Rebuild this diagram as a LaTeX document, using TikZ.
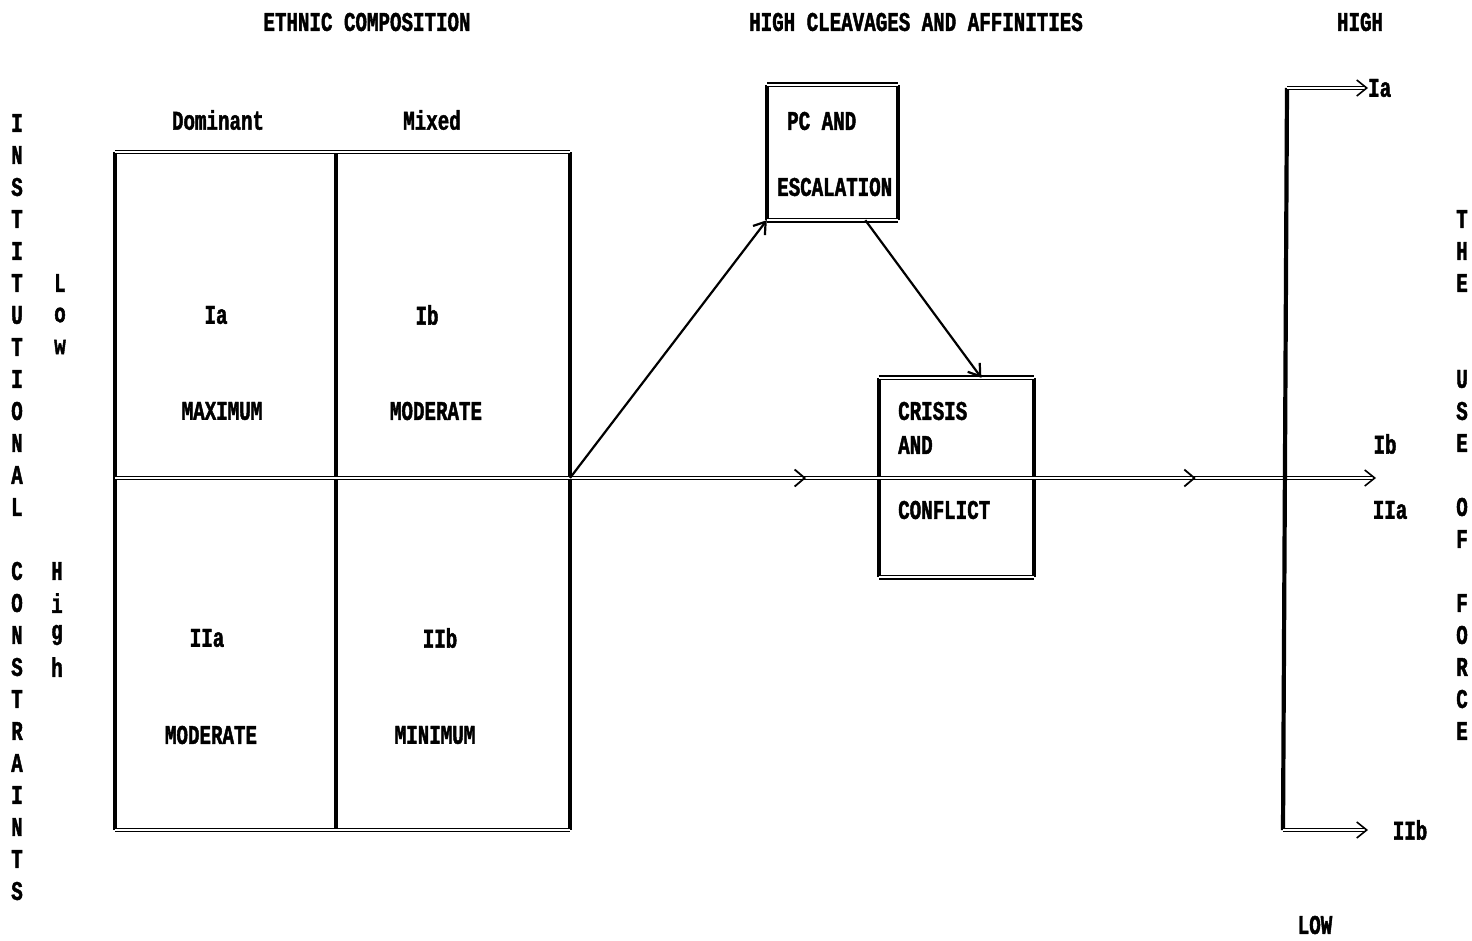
\documentclass[tikz,border=0pt]{standalone}
\usepackage{fontspec}
\newfontfamily\dotfont[FakeStretch=0.71,FakeBold=1.6]{Liberation Mono}
\usetikzlibrary{arrows.meta,calc,decorations.markings}

\begin{document}
\begin{tikzpicture}[x=1pt,y=-1pt,
  txt/.style={font=\dotfont\bfseries\fontsize{27}{32}\selectfont, inner sep=0pt},
  side/.style={line width=4.2pt},
  dbl/.style={double, double distance=1.6pt, line width=1.6pt},
  tip/.style={-{Straight Barb[length=10pt,width=16pt]}},
  link/.style={line width=2.2pt, -{Straight Barb[length=11pt,width=15pt]}},
  boxed/.style={inner sep=0pt, minimum width=#1}]
\useasboundingbox (0,0) rectangle (1472,940);

% headings
\node[txt] (tethnic) at (367,22) {ETHNIC COMPOSITION};
\node[txt] (tcleav) at (916,22) {HIGH CLEAVAGES AND AFFINITIES};
\node[txt] (thigh) at (1360,22) {HIGH};

% left axis
\foreach \ch [count=\k from 0] in {I,N,S,T,I,T,U,T,I,O,N,A,L}
  \node[txt] (ins\k) at (17,{123+32*\k}) {\ch};
\foreach \ch [count=\k from 0] in {C,O,N,S,T,R,A,I,N,T,S}
  \node[txt] (con\k) at (17,{571+32*\k}) {\ch};
\foreach \ch [count=\k from 0] in {L,o,w}
  \node[txt] (low\k) at (60,{283+32*\k}) {\ch};
\foreach \ch [count=\k from 0] in {H,i,g,h}
  \node[txt] (high\k) at (57,{571+32*\k}) {\ch};

% right axis
\foreach \ch/\r [count=\k] in {T/3,H/4,E/5,U/8,S/9,E/10,O/12,F/13,F/15,O/16,R/17,C/18,E/19}
  \node[txt] (force\k) at (1462,{123+32*\r}) {\ch};

% grid
\coordinate (gtl) at (115,152); \coordinate (gtm) at (336,152); \coordinate (gtr) at (570,152);
\coordinate (gml) at (115,478); \coordinate (gmr) at (570,478);
\coordinate (gbl) at (115,830); \coordinate (gbm) at (336,830); \coordinate (gbr) at (570,830);
\draw[side] (gtl) -- (gbl);
\draw[side] (gtm) -- (gbm);
\draw[side] (gtr) -- (gbr);
\draw[dbl] (gtl) -- (gtr);
\draw[dbl] (gbl) -- (gbr);

\node[txt] (dom) at (218,120) {Dominant};
\node[txt] (mix) at (432,120) {Mixed};
\node[txt] (ia) at (216,315) {Ia};
\node[txt] (ia2) at (222,411) {MAXIMUM};
\node[txt] (ib) at (427,315) {Ib};
\node[txt] (ib2) at (436,411) {MODERATE};
\node[txt] (iia) at (207,638) {IIa};
\node[txt] (iia2) at (211,735) {MODERATE};
\node[txt] (iib) at (440,638) {IIb};
\node[txt] (iib2) at (435,735) {MINIMUM};

% boxes
\node[boxed=131pt, minimum height=135pt] (pc) at (832.5,152.5) {};
\node[boxed=155pt, minimum height=199pt] (crisis) at (956.5,477.5) {};
\foreach \b in {pc,crisis} {
  \draw[side] (\b.north west) -- (\b.south west);
  \draw[side] (\b.north east) -- (\b.south east);
  \draw[dbl] (\b.north west) -- (\b.north east);
  \draw[dbl] (\b.south west) -- (\b.south east);
}
\node[txt, anchor=west] (pc1) at (787,121) {PC AND};
\node[txt, anchor=west] (pc2) at (777,187) {ESCALATION};
\node[txt, anchor=west] (cr1) at (898,411) {CRISIS};
\node[txt, anchor=west] (cr2) at (898,445) {AND};
\node[txt, anchor=west] (cr3) at (898,510) {CONFLICT};

% main line
\coordinate (gend) at (1376,478);
\draw[dbl, tip] (gml) -- (gend);
\path[postaction={decorate}, decoration={markings,
  mark=at position 0.548 with {\arrow[line width=1.8pt]{Straight Barb[length=10pt,width=17pt]}},
  mark=at position 0.857 with {\arrow[line width=1.8pt]{Straight Barb[length=10pt,width=17pt]}}}]
  (gml) -- (gend);
\draw[link] (gmr) -- (pc.south west);
\draw[link] ($(pc.south west)!0.75!(pc.south east)$) -- ($(crisis.north west)!0.66!(crisis.north east)$);

% outcome
\coordinate (rtop) at (1287,88);
\coordinate (rbot) at (1283,830);
\coordinate (bend) at (1368,830);
\draw[side] (rtop) -- (rbot);
\node[txt, anchor=west] (ria) at (1368,88) {Ia};
\node[txt] (rib) at (1385,444) {Ib};
\node[txt] (riia) at (1390,510) {IIa};
\node[txt] (riib) at (1410,830) {IIb};
\node[txt] (rlow) at (1315,925) {LOW};
\draw[dbl, tip] (rtop) -- (ria.west);
\draw[dbl, tip] (rbot) -- (bend);
\end{tikzpicture}
\end{document}
